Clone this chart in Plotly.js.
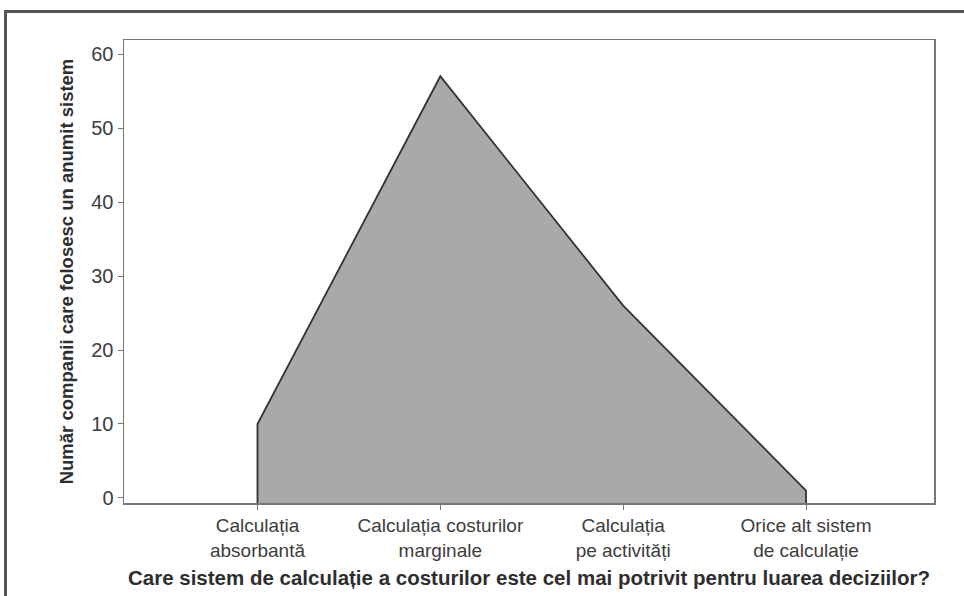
<!DOCTYPE html>
<html>
<head>
<meta charset="utf-8">
<script src="https://cdn.plot.ly/plotly-3.0.1.min.js"></script>
<style>
  html, body { margin: 0; padding: 0; background: #fff; }
  #frame { position: absolute; left: 4px; top: 10px; width: 960px; height: 586px;
           border-left: 3px solid #555; border-top: 3px solid #555; box-sizing: border-box; }
  #chart { position: absolute; left: 0; top: 0; width: 964px; height: 596px; }
</style>
</head>
<body>
<div id="frame"></div>
<div id="chart"></div>
<script>
const categories = [
  "Calculația<br>absorbantă",
  "Calculația costurilor<br>marginale",
  "Calculația<br>pe activități",
  "Orice alt sistem<br>de calculație"
];
const companies = [10, 57, 26, 1];
const yTicks = [0, 10, 20, 30, 40, 50, 60];
const xTitle = "Care sistem de calculație a costurilor este cel mai potrivit pentru luarea deciziilor?";
const yTitle = "Număr companii care folosesc un anumit sistem";

const yRange = [-0.68, 61.9];
const idx = categories.map((c, i) => i);
const polyX = [idx[0]].concat(idx, [idx[idx.length - 1]]);
const polyY = [yRange[0]].concat(companies, [yRange[0]]);

const trace = {
  type: "scatter",
  mode: "lines",
  x: polyX,
  y: polyY,
  fill: "toself",
  fillcolor: "#a9a9a9",
  line: { color: "#333333", width: 1.8 },
  hoverinfo: "skip"
};

const layout = {
  width: 964,
  height: 596,
  margin: { l: 124, r: 30, t: 40, b: 93 },
  paper_bgcolor: "rgba(0,0,0,0)",
  plot_bgcolor: "#ffffff",
  showlegend: false,
  font: { family: "Liberation Sans, Arial, sans-serif", color: "#444" },
  xaxis: {
    range: [-0.73, 3.70],
    tickmode: "array",
    tickvals: idx,
    ticktext: categories,
    ticks: "outside",
    ticklen: 5,
    tickcolor: "#777",
    tickfont: { size: 19, color: "#3d3d3d" },
    showline: true,
    mirror: true,
    linecolor: "#777",
    linewidth: 1.5,
    showgrid: false,
    zeroline: false,
    title: { text: xTitle, font: { size: 20.5, color: "#2e2e2e", weight: "bold" }, standoff: 10 }
  },
  yaxis: {
    range: yRange,
    tickmode: "array",
    tickvals: yTicks,
    ticks: "outside",
    ticklen: 5,
    tickcolor: "#777",
    tickfont: { size: 20, color: "#3d3d3d" },
    showline: true,
    mirror: true,
    linecolor: "#777",
    linewidth: 1.5,
    showgrid: false,
    zeroline: false,
    title: { text: yTitle, font: { size: 18.5, color: "#2e2e2e", weight: "bold" }, standoff: 13 }
  }
};

Plotly.newPlot("chart", [trace], layout, { staticPlot: true, displayModeBar: false });
</script>
</body>
</html>
